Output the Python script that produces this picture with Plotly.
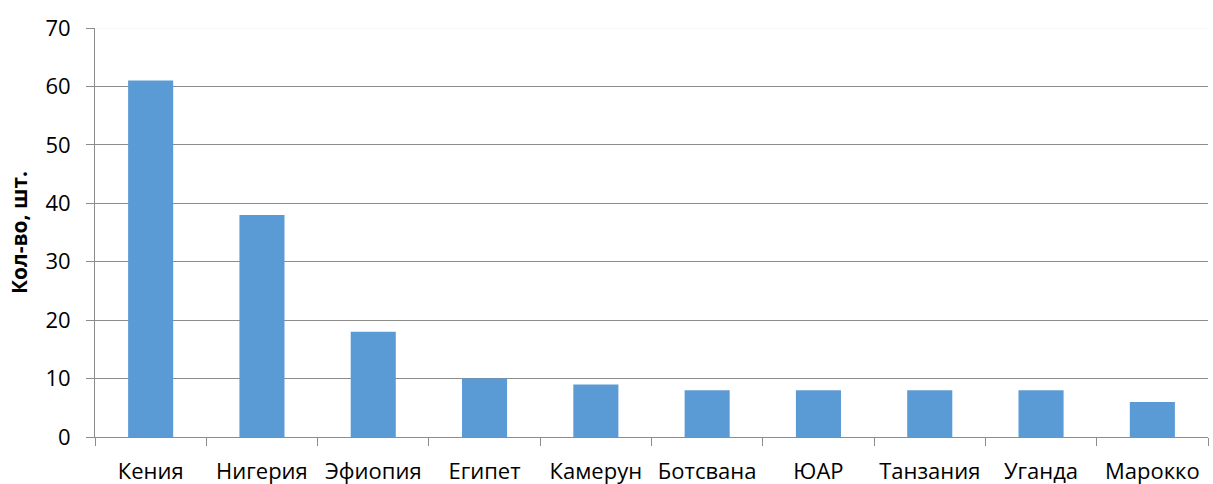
import plotly.graph_objects as go

countries = ["Кения", "Нигерия", "Эфиопия", "Египет", "Камерун", "Ботсвана", "ЮАР", "Танзания", "Уганда", "Марокко"]
counts = [61, 38, 18, 10, 9, 8, 8, 8, 8, 6]
y_ticks = [0, 10, 20, 30, 40, 50, 60, 70]

FONT = "Open Sans"

fig = go.Figure(go.Bar(
    x=countries, y=counts,
    marker=dict(color="#5B9BD5", line=dict(width=0)),
    width=0.405,
))

fig.update_layout(
    width=1213, height=484,
    margin=dict(l=95, r=5, t=28, b=47, autoexpand=False),
    plot_bgcolor="white", paper_bgcolor="white",
    showlegend=False,
    font=dict(family=FONT, size=22, color="#000000"),
)
fig.update_xaxes(
    automargin=False,
    showline=True, linecolor="#8c8c8c", linewidth=1,
    ticks="outside", ticklen=8, tickcolor="#8c8c8c",
    tickson="boundaries", showgrid=False,
    ticklabelstandoff=15,
    tickfont=dict(family=FONT, size=22),
)
fig.update_yaxes(
    automargin=False,
    range=[0, 70], tickvals=y_ticks,
    showline=True, linecolor="#8c8c8c", linewidth=1,
    ticks="outside", ticklen=8, tickcolor="#8c8c8c",
    showgrid=True, gridcolor="#8c8c8c", gridwidth=1,
    zeroline=False,
    ticklabelstandoff=11,
    tickfont=dict(family=FONT, size=22),
    title=dict(text="<b>Кол-во, шт.</b>", font=dict(family=FONT, size=21), standoff=12),
)
# faint top gridline at 70
fig.add_shape(type="line", xref="paper", yref="y", x0=0, x1=1, y0=y_ticks[-1], y1=y_ticks[-1],
              line=dict(color="#f0f0f0", width=1))

fig.write_html("out.html", config={"displayModeBar": False},
               post_script="document.body.style.margin='0';")
